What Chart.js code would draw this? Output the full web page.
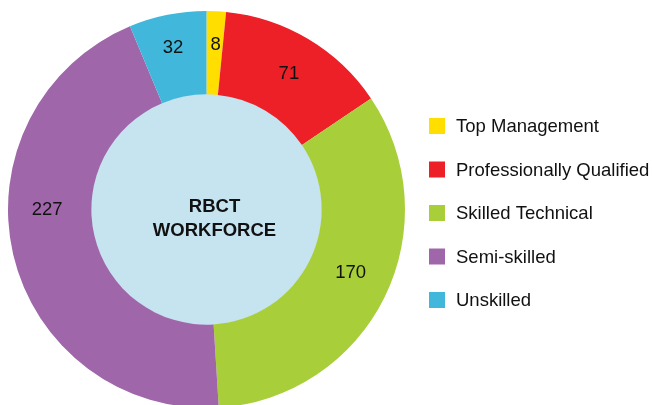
<!DOCTYPE html>
<html>

<head>
    <title>RBCT Workforce</title>
    <script src="https://cdn.jsdelivr.net/npm/chart.js@4/dist/chart.umd.min.js"></script>
    <style>
        html, body { margin: 0; padding: 0; background: #fff; overflow: hidden; }
    </style>
</head>

<body>
    <canvas id="ctx" width="653" height="419"></canvas>

    <script>
        const categories = ['Top Management', 'Professionally Qualified', 'Skilled Technical', 'Semi-skilled', 'Unskilled'];
        const headcount = [8, 71, 170, 227, 32];
        const colours = ['#FFDE00', '#ED1F27', '#A8CF3A', '#9F66AA', '#41B7DC'];
        const centreTitle = ['RBCT', 'WORKFORCE'];

        // where each number sits inside its slice: fraction along the arc, fraction across the ring
        const labelSpot = [[0.56, 0.6], [0.51, 0.52], [0.48, 0.51], [0.58, 0.53], [0.485, 0.6]];

        const FONT = '"Liberation Sans", Arial, Helvetica, sans-serif';

        const ringExtras = {
            id: 'ringExtras',
            beforeDatasetsDraw(chart) {
                const arc = chart.getDatasetMeta(0).data[0];
                const c = chart.ctx;
                c.save();
                c.fillStyle = '#C6E3F0';
                c.beginPath();
                c.arc(arc.x, arc.y, arc.innerRadius + 0.5, 0, Math.PI * 2);
                c.fill();
                c.restore();
            },
            afterDatasetsDraw(chart) {
                const c = chart.ctx;
                const meta = chart.getDatasetMeta(0);
                c.save();
                c.fillStyle = '#111';
                c.textAlign = 'center';
                c.textBaseline = 'middle';
                c.font = '18.5px ' + FONT;
                meta.data.forEach((a, i) => {
                    const p = labelSpot[i];
                    const ang = a.startAngle + (a.endAngle - a.startAngle) * p[0];
                    const r = a.innerRadius + (a.outerRadius - a.innerRadius) * p[1];
                    c.fillText(String(headcount[i]), a.x + r * Math.cos(ang), a.y + r * Math.sin(ang));
                });

                // centre title
                const a0 = meta.data[0];
                c.font = 'bold 18.5px ' + FONT;
                c.fillText(centreTitle[0], a0.x + 8, a0.y - 3);
                c.fillText(centreTitle[1], a0.x + 8, a0.y + 21);

                // legend on the right
                c.textAlign = 'left';
                c.font = '18.5px ' + FONT;
                categories.forEach((name, i) => {
                    const y = 126 + i * 43.5;
                    c.fillStyle = colours[i];
                    c.fillRect(429, y - 8, 16, 16);
                    c.fillStyle = '#111';
                    c.fillText(name, 456, y + 1);
                });
                c.restore();
            }
        };

        const chart = new Chart(document.getElementById('ctx'), {
            type: 'doughnut',
            data: {
                labels: categories,
                datasets: [{
                    data: headcount,
                    backgroundColor: colours,
                    borderWidth: 0
                }]
            },
            options: {
                responsive: false,
                animation: false,
                cutout: '58%',
                layout: {
                    padding: { left: 8, top: 8, bottom: 8, right: 248 }
                },
                plugins: {
                    legend: { display: false },
                    tooltip: { enabled: false }
                }
            },
            plugins: [ringExtras]
        });
    </script>
</body>

</html>
